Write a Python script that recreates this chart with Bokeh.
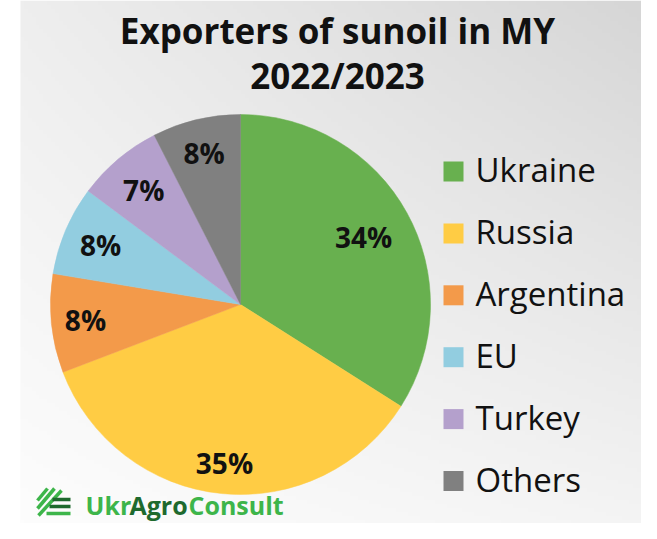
import numpy as np
from bokeh.plotting import figure
from bokeh.models import Range1d, ColumnDataSource
from bokeh.core.properties import value
from bokeh.embed import file_html
from bokeh.resources import INLINE

# ---- data ----
countries = ["Ukraine", "Russia", "Argentina", "EU", "Turkey", "Others"]
shares = [34.0, 35.2, 8.4, 7.6, 7.3, 7.5]
labels = ["34%", "35%", "8%", "8%", "7%", "8%"]
colors = ["#68B04F", "#FFCC44", "#F39A4A", "#92CDE0", "#B4A0CC", "#808080"]
title_lines = ["Exporters of sunoil in MY", "2022/2023"]

W, H = 641, 523
def X(px):
    return px
def Y(py):          # main content, lifted 8px so the logo fits
    return 531 - py
def YL(py):         # logo, lifted 18px
    return 541 - py

p = figure(width=W, height=H, output_backend="svg", toolbar_location=None,
           x_range=Range1d(0, W), y_range=Range1d(0, H), min_border=0)
p.axis.visible = False
p.grid.visible = False
p.outline_line_color = None
p.background_fill_color = "white"
p.border_fill_color = "white"

# background gradient (bilinear between corner greys)
nx, ny = 160, 130
fx = np.linspace(0, 1, nx)[None, :]
fy = np.linspace(0, 1, ny)[:, None]  # 0 = bottom, 1 = top
tl, tr, bl, br = 238.0, 214.0, 253.0, 244.0
g = (bl * (1 - fx) * (1 - fy) + br * fx * (1 - fy) + tl * (1 - fx) * fy + tr * fx * fy)
g = np.clip(g, 0, 255).astype(np.uint32)
img = (255 << 24) | (g << 16) | (g << 8) | g
p.image_rgba(image=[img.astype(np.uint32)], x=X(20), y=0, dw=W - X(20), dh=H)

# title
for i, line in enumerate(title_lines):
    p.text(x=[X(337)], y=[Y(38 + 45 * i)], text=[line], text_font=value("Open Sans"),
           text_font_style="bold", text_font_size="35px", text_align="center",
           text_baseline="middle", text_color="#111111")

# pie
cx, cy, R = X(240), Y(312), 190
tot = sum(shares)
cum = np.cumsum([0] + shares) / tot
starts = [np.pi / 2 - 2 * np.pi * c for c in cum[:-1]]
ends = [np.pi / 2 - 2 * np.pi * c for c in cum[1:]]
src = ColumnDataSource(dict(start=starts, end=ends, color=colors, name=countries))
p.wedge(x=cx, y=cy, radius=R, start_angle="start", end_angle="end", direction="clock",
        fill_color="color", line_color="color", line_width=0.5, source=src)

label_r = [0.74, 0.84, 0.82, 0.80, 0.79, 0.82]
mids = (cum[:-1] + cum[1:]) / 2
lx = [cx + R * f * np.cos(np.pi / 2 - 2 * np.pi * m) for m, f in zip(mids, label_r)]
ly = [cy + R * f * np.sin(np.pi / 2 - 2 * np.pi * m) for m, f in zip(mids, label_r)]
p.text(x=lx, y=ly, text=labels, text_font=value("Open Sans"), text_font_style="bold",
       text_font_size="28px", text_align="center", text_baseline="middle", text_color="#111111")

# legend
ly0, dy = 179, 61.9
sq_y = [Y(ly0 + i * dy) for i in range(len(countries))]
p.scatter(x=[X(453)] * len(countries), y=sq_y, marker="square", size=20,
          fill_color=colors, line_color=None)
p.text(x=[X(475)] * len(countries), y=[v + 2 for v in sq_y], text=countries,
       text_font=value("Open Sans"), text_font_size="33px", text_align="left",
       text_baseline="middle", text_color="#111111")

# logo
bright, dark = "#3DB54A", "#1E6A2E"
p.segment(x0=[X(37), X(37), X(38)], y0=[YL(518), YL(526), YL(533)],
          x1=[X(47), X(54), X(61)], y1=[YL(506), YL(506), YL(508)],
          line_color=bright, line_width=3.5)
p.segment(x0=[X(52), X(49), X(46)], y0=[YL(517), YL(524), YL(531)],
          x1=[X(70), X(70), X(70)], y1=[YL(517), YL(524), YL(531)],
          line_color=[dark, dark, bright], line_width=3.5)
for t, x0, c in [("Ukr", 85, bright), ("Agro", 129, dark), ("Consult", 188, bright)]:
    p.text(x=[X(x0)], y=[YL(522)], text=[t], text_font=value("Open Sans"), text_font_style="bold",
           text_font_size="25px", text_align="left", text_baseline="middle", text_color=c)

open("out.html", "w").write(file_html(p, INLINE))
